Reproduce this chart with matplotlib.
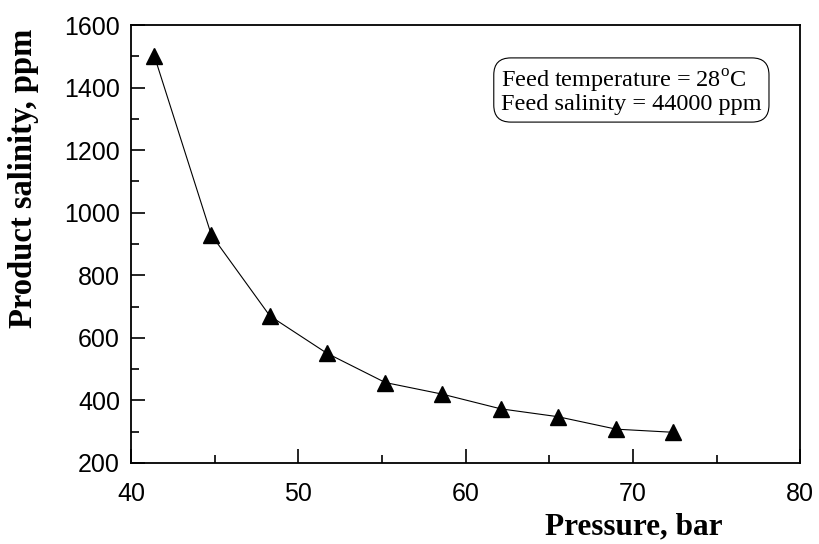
import numpy as np
import matplotlib
matplotlib.use('Agg')
from matplotlib import pyplot as plt
from matplotlib.ticker import MultipleLocator

# pressure in bar, product salinity in ppm
pressure = [41.4, 44.8, 48.3, 51.7, 55.2, 58.6, 62.1, 65.5, 69.0, 72.4]
salinity = [1500, 929, 670, 551, 457, 420, 373, 348, 308, 298]

x_ticks = [40, 50, 60, 70, 80]
y_ticks = [200, 400, 600, 800, 1000, 1200, 1400, 1600]

plt.rcParams['font.family'] = ['Liberation Sans', 'DejaVu Sans']
plt.rcParams['mathtext.fontset'] = 'custom'
plt.rcParams['mathtext.rm'] = 'Liberation Serif'

fig = plt.figure(figsize=(8.19, 5.44), dpi=100)
ax = fig.add_axes([0.16, 0.149, 0.817, 0.805])

ax.plot(pressure, salinity, color='black', linewidth=0.8,
        marker='^', markersize=11, markerfacecolor='black',
        markeredgecolor='black')

ax.set_xlim(40, 80)
ax.set_ylim(200, 1600)
ax.set_xticks(x_ticks)
ax.set_yticks(y_ticks)
ax.xaxis.set_minor_locator(MultipleLocator(5))
ax.yaxis.set_minor_locator(MultipleLocator(100))
ax.tick_params(which='both', direction='in', top=False, right=False,
               width=1.2, labelsize=18)
ax.tick_params(which='major', length=10)
ax.tick_params(which='minor', length=6)
ax.tick_params(axis='x', which='major', pad=14)
ax.tick_params(axis='y', which='major', pad=8)
for s in ax.spines.values():
    s.set_linewidth(1.3)

ax.set_xlabel('Pressure, bar', fontfamily='Liberation Serif',
              fontweight='bold', fontsize=22.5)
ax.xaxis.set_label_coords(0.752, -0.112)
ax.set_ylabel('Product salinity, ppm', fontfamily='Liberation Serif',
              fontweight='bold', fontsize=23.5)
ax.yaxis.set_label_coords(-0.138, 0.65)

ax.text(0.553, 0.849,
        'Feed temperature = 28$^{\\rm o}$C\nFeed salinity = 44000 ppm',
        transform=ax.transAxes, ha='left', va='center',
        fontfamily='Liberation Serif', fontsize=17.5, linespacing=0.95,
        bbox=dict(boxstyle='round,pad=0.3,rounding_size=0.7',
                  facecolor='white', edgecolor='black', linewidth=0.8))

fig.savefig('out.png', dpi=100)
